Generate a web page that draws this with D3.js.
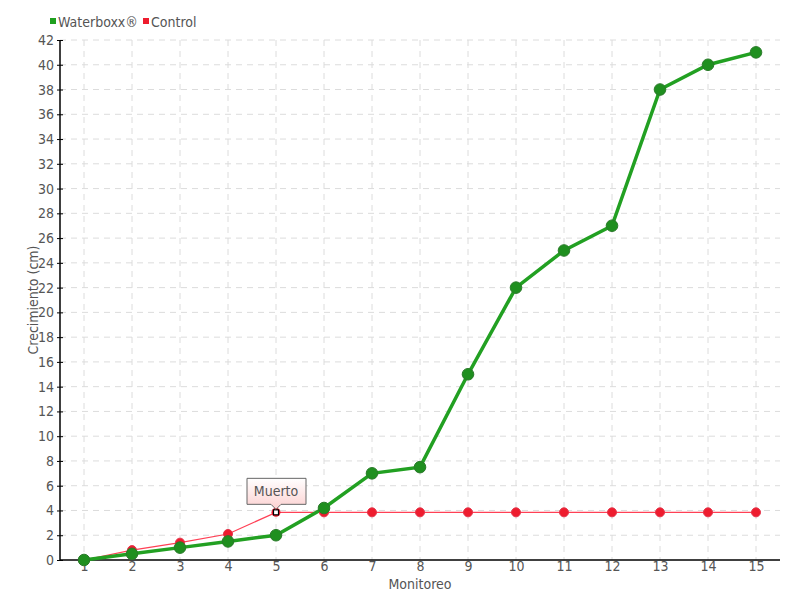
<!DOCTYPE html>
<html><head><meta charset="utf-8">
<script src="https://cdn.jsdelivr.net/npm/d3@7/dist/d3.min.js"></script>
<style>body{margin:0;background:#fff}svg{font-family:"DejaVu Sans",sans-serif;font-stretch:condensed}</style>
</head><body><svg id="c" width="800" height="600"></svg>
<script>
const categories = [1,2,3,4,5,6,7,8,9,10,11,12,13,14,15];
const waterboxx = [0,0.5,1,1.5,2,4.2,7,7.5,15,22,25,27,38,40,41];
const control = [0,0.8,1.4,2.1,3.85,3.85,3.85,3.85,3.85,3.85,3.85,3.85,3.85,3.85,3.85];
const yTicks = d3.range(0,43,2);
const seriesNames = ["Waterboxx®","Control"];
const annotationText = "Muerto";
const annotationIndex = 4;

const svg = d3.select("#c");
const m = {l:60,r:20,t:40,b:40};
const W=800,H=600;
const x = d3.scaleLinear().domain([0.5,15.5]).range([m.l,W-m.r]);
const y = d3.scaleLinear().domain([0,42]).range([H-m.b,m.t]);

const defs = svg.append("defs");
const g1 = defs.append("linearGradient").attr("id","ann").attr("x1",0).attr("y1",0).attr("x2",0).attr("y2",1);
g1.append("stop").attr("offset","0%").attr("stop-color","#ffffff");
g1.append("stop").attr("offset","100%").attr("stop-color","#fcd0d0");

// grid
svg.append("g").selectAll("line").data(yTicks.filter(d=>d>0)).join("line")
  .attr("x1",m.l).attr("x2",W-m.r).attr("y1",d=>y(d)).attr("y2",d=>y(d))
  .attr("stroke","#dcdcdc").attr("stroke-dasharray","6,5");
svg.append("g").selectAll("line").data(categories).join("line")
  .attr("x1",d=>x(d)).attr("x2",d=>x(d)).attr("y1",m.t).attr("y2",H-m.b)
  .attr("stroke","#dcdcdc").attr("stroke-dasharray","6,5");

// axes
const yAxis = svg.append("g").attr("transform",`translate(${m.l},0)`)
  .call(d3.axisLeft(y).tickValues(yTicks).tickSize(3).tickPadding(3));
yAxis.selectAll(".tick line").attr("x1",3).attr("x2",-3).attr("stroke","#000");
yAxis.select(".domain").attr("d",`M0,${y(42)}V${y(0)}`).attr("stroke","#000").attr("stroke-width",1.5);
yAxis.selectAll("text").attr("fill","#555").attr("font-size",14).attr("font-family","DejaVu Sans").style("font-stretch","condensed");

const xAxis = svg.append("g").attr("transform",`translate(0,${H-m.b})`)
  .call(d3.axisBottom(x).tickValues(categories).tickFormat(d3.format("d")).tickSize(0).tickPadding(1));
xAxis.select(".domain").attr("d",`M${m.l},0H${W-m.r}`).attr("stroke","#000").attr("stroke-width",1.5);
xAxis.selectAll("text").attr("fill","#555").attr("font-size",14).attr("font-family","DejaVu Sans").style("font-stretch","condensed");

svg.append("text").attr("x",(m.l+W-m.r)/2).attr("y",589).attr("text-anchor","middle")
  .attr("fill","#555").attr("font-size",14).text("Monitoreo");
svg.append("text").attr("transform",`translate(38,${(m.t+H-m.b)/2}) rotate(-90)`).attr("text-anchor","middle")
  .attr("fill","#555").attr("font-size",14).text("Crecimiento (cm)");

// lines
const line = d3.line().x((d,i)=>x(categories[i])).y(d=>y(d));
svg.append("path").datum(control).attr("d",line).attr("fill","none").attr("stroke","#ff4055").attr("stroke-width",1.2);
svg.append("path").datum(waterboxx).attr("d",line).attr("fill","none").attr("stroke","#22a022").attr("stroke-width",3.5);

const ctrlPts = control.map((v,i)=>({c:categories[i],v,i})).filter(d=>d.i!==annotationIndex);
svg.append("g").selectAll("circle").data(ctrlPts).join("circle")
  .attr("cx",d=>x(d.c)).attr("cy",d=>y(d.v)).attr("r",4.5)
  .attr("fill","#ee1c2e").attr("stroke","#e4344a").attr("stroke-width",1);
svg.append("g").selectAll("circle").data(waterboxx).join("circle")
  .attr("cx",(d,i)=>x(categories[i])).attr("cy",d=>y(d)).attr("r",5.8)
  .attr("fill","#1f8f1f").attr("stroke","#2a7a2a").attr("stroke-width",1);

// annotated point
const ax = x(categories[annotationIndex]), ay = y(control[annotationIndex]);
svg.append("circle").attr("cx",ax).attr("cy",ay).attr("r",4.5).attr("fill","#ee1c2e");
svg.append("rect").attr("x",ax-2.5).attr("y",ay-2.5).attr("width",5).attr("height",5)
  .attr("fill","#fff").attr("stroke","#000").attr("stroke-width",1.2);
// callout
const bw=59,bh=26, bx=ax-29, by=ay-34;
svg.append("path").attr("d",`M${bx},${by}H${bx+bw}V${by+bh}H${ax+5}L${ax},${by+bh+5}L${ax-5},${by+bh}H${bx}Z`)
  .attr("fill","url(#ann)").attr("stroke","#666").attr("stroke-width",1);
svg.append("text").attr("x",ax).attr("y",by+18).attr("text-anchor","middle").attr("fill","#555").attr("font-size",14).text(annotationText);

// legend
const leg = svg.append("g");
const legItems = [{n:seriesNames[0],c:"#1fa01f",x:50},{n:seriesNames[1],c:"#ee1c2e",x:143}];
legItems.forEach(it=>{
  leg.append("rect").attr("x",it.x).attr("y",18).attr("width",6).attr("height",6).attr("fill",it.c);
  leg.append("text").attr("x",it.x+8).attr("y",27).attr("fill","#555").attr("font-size",14).text(it.n);
});
</script></body></html>
